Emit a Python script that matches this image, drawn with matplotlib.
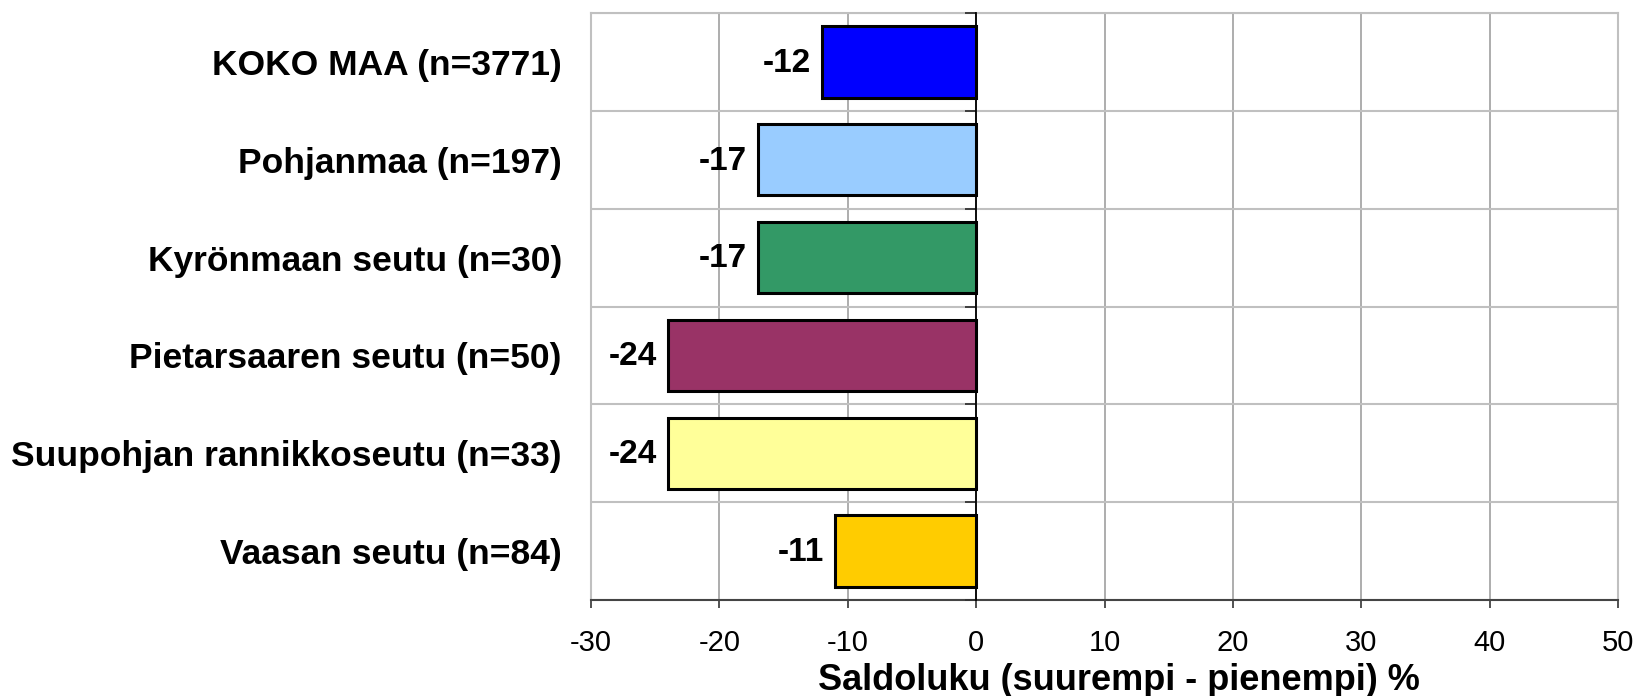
import matplotlib
matplotlib.use("Agg")
import matplotlib.pyplot as plt
import numpy as np

plt.rcParams['font.family'] = ['Liberation Sans', 'DejaVu Sans']

categories = ["KOKO MAA (n=3771)", "Pohjanmaa (n=197)", "Kyrönmaan seutu (n=30)",
              "Pietarsaaren seutu (n=50)", "Suupohjan rannikkoseutu (n=33)", "Vaasan seutu (n=84)"]
values = [-12, -17, -17, -24, -24, -11]
colors = ["#0000FF", "#99CCFF", "#339966", "#993366", "#FFFF99", "#FFCC00"]
xticks = [-30, -20, -10, 0, 10, 20, 30, 40, 50]
xlabel = "Saldoluku (suurempi - pienempi) %"

fig = plt.figure(figsize=(16.38, 6.96), dpi=100)
ax = fig.add_axes([591/1638, 1-600/696, (1618-591)/1638, (600-13)/696])

y = np.arange(len(categories))
ax.barh(y, values, height=0.73, color=colors, edgecolor='black', linewidth=2.2, zorder=3)

ax.set_xlim(-30, 50)
ax.set_ylim(len(categories)-0.5, -0.5)
ax.set_xticks(xticks)
ax.set_xticklabels([str(t) for t in xticks], fontsize=21)
ax.tick_params(axis='x', direction='out', length=6, width=1.2, color='#333333', pad=15)
ax.set_yticks(y)
ax.set_yticklabels(categories, fontsize=25.5, fontweight='bold')
ax.tick_params(axis='y', length=0, pad=21)
ax.set_yticks(np.arange(len(categories)+1)-0.5, minor=True)
ax.tick_params(axis='y', which='minor', length=0)
ax.grid(True, axis='x', color='#A0A0A0', linewidth=1.2, zorder=0)
ax.grid(True, axis='y', which='minor', color='#C0C0C0', linewidth=1.5, zorder=0)

for s in ['top', 'right', 'left']:
    ax.spines[s].set_color('#C0C0C0')
    ax.spines[s].set_linewidth(1.5)
ax.spines['bottom'].set_color('#444444')
ax.spines['bottom'].set_linewidth(1.5)

ax.set_xlabel(xlabel, fontsize=26, fontweight='bold', labelpad=4)
ax.xaxis.label.set_x(0.514)

# zero axis with category tick marks
ax2 = ax.twinx()
ax2.set_ylim(ax.get_ylim())
ax2.spines['right'].set_position(('data', 0))
ax2.spines['right'].set_color('black')
ax2.spines['right'].set_linewidth(1.3)
for s in ['top', 'left', 'bottom']:
    ax2.spines[s].set_visible(False)
ax2.set_yticks(np.arange(len(categories)+1)-0.5)
ax2.set_yticklabels([])
ax2.tick_params(axis='y', direction='in', length=8, width=1.3, color='#333333')
ax2.set_zorder(ax.get_zorder()+1)
ax2.patch.set_visible(False)

for yi, v in zip(y, values):
    ax.annotate(f"{v}", xy=(v, yi), xytext=(-8, -1), textcoords='offset points',
                ha='right', va='center', fontsize=24, fontweight='bold', zorder=4)

fig.savefig("out.png", dpi=100)
